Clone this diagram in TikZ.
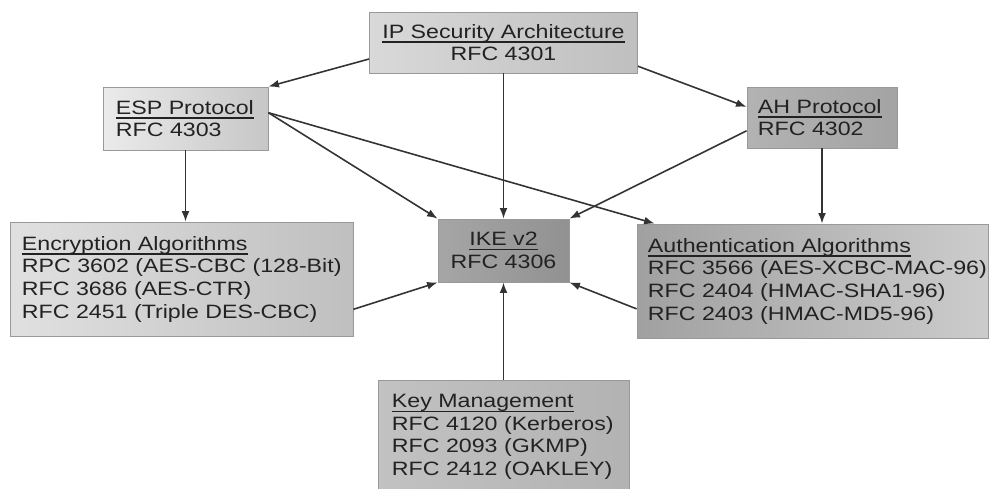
\documentclass[tikz,border=0pt]{standalone}
\usepackage{fontspec}
\setmainfont{Liberation Sans}[FakeStretch=1.2]
\usetikzlibrary{arrows.meta,calc}

\definecolor{txt}{HTML}{222222}
% heading line with a fixed underline
\newcommand\hd[1]{\setbox0\hbox{#1}\rlap{\rule[-2.6pt]{\wd0}{0.8pt}}\box0}

\begin{document}
\begin{tikzpicture}[x=0.02cm,y=-0.02cm,
  box/.style={draw=black!40, line width=0.5pt, align=center, inner sep=0pt, text=txt,
    font=\fontsize{11}{12.9}\selectfont},
  lbl/.style={anchor=west, xshift=0.22cm, align=left, inner sep=0pt, text=txt,
    font=\fontsize{11}{12.9}\selectfont},
  conn/.style={-{Latex[length=6pt,width=4.5pt]}, line width=0.9pt, draw=black!80}]
 \useasboundingbox (0,0) rectangle (990,488);
 % boxes
 \node[box, minimum width=5.36cm, minimum height=1.22cm,
   left color=black!15, right color=black!25] (ipsec) at (503.5,42.5)
   {\hd{IP Security Architecture}\\RFC 4301};
 \node[box, minimum width=3.30cm, minimum height=1.26cm,
   left color=black!8, right color=black!22,
   label={[lbl, xshift=0.04cm]west:\hd{ESP Protocol}\\RFC 4303}] (esp) at (185.5,118.5) {};
 \node[box, minimum width=3.00cm, minimum height=1.22cm,
   left color=black!30, right color=black!36,
   label={[lbl]west:\hd{AH Protocol}\\RFC 4302}] (ah) at (822,117.5) {};
 \node[box, minimum width=6.86cm, minimum height=2.28cm,
   left color=black!12, right color=black!25,
   label={[lbl, xshift=0.02cm]west:\hd{Encryption Algorithms}\\RPC 3602 (AES-CBC (128-Bit)\\RFC 3686 (AES-CTR)\\RFC 2451 (Triple DES-CBC)}]
   (enc) at (181.5,279) {};
 \node[box, minimum width=2.62cm, minimum height=1.26cm,
   left color=black!35, right color=black!43] (ike) at (503.5,250.5)
   {\hd{IKE v2}\\RFC 4306};
 \node[box, minimum width=7.02cm, minimum height=2.28cm,
   left color=black!37, right color=black!20,
   label={[lbl]west:\hd{Authentication Algorithms}\\RFC 3566 (AES-XCBC-MAC-96)\\RFC 2404 (HMAC-SHA1-96)\\RFC 2403 (HMAC-MD5-96)}]
   (auth) at (812.5,281) {};
 \node[box, minimum width=5.02cm, minimum height=2.28cm,
   left color=black!24, right color=black!30,
   label={[lbl, xshift=0.06cm]west:\hd{Key Management}\\RFC 4120 (Kerberos)\\RFC 2093 (GKMP)\\RFC 2412 (OAKLEY)}]
   (key) at (503.5,437) {};
 % arrows
 \draw[conn] (ipsec.187) -- (esp.north east);
 \draw[conn] (ipsec.350) -- (ah.172);
 \draw[conn] (ipsec.south) -- (ike.north);
 \draw[conn] (esp.4) -- (ike.north west);
 \draw[conn] (esp.4) -- (auth.160);
 \draw[conn] (ah.190) -- (ike.north east);
 \draw[conn] (esp.south) -- (esp.south |- enc.north);
 \draw[conn] (ah.south) -- (ah.south |- auth.north);
 \draw[conn] (enc.350) -- (ike.south west);
 \draw[conn] (auth.189) -- (ike.south east);
 \draw[conn] (key.north) -- (ike.south);
\end{tikzpicture}
\end{document}
